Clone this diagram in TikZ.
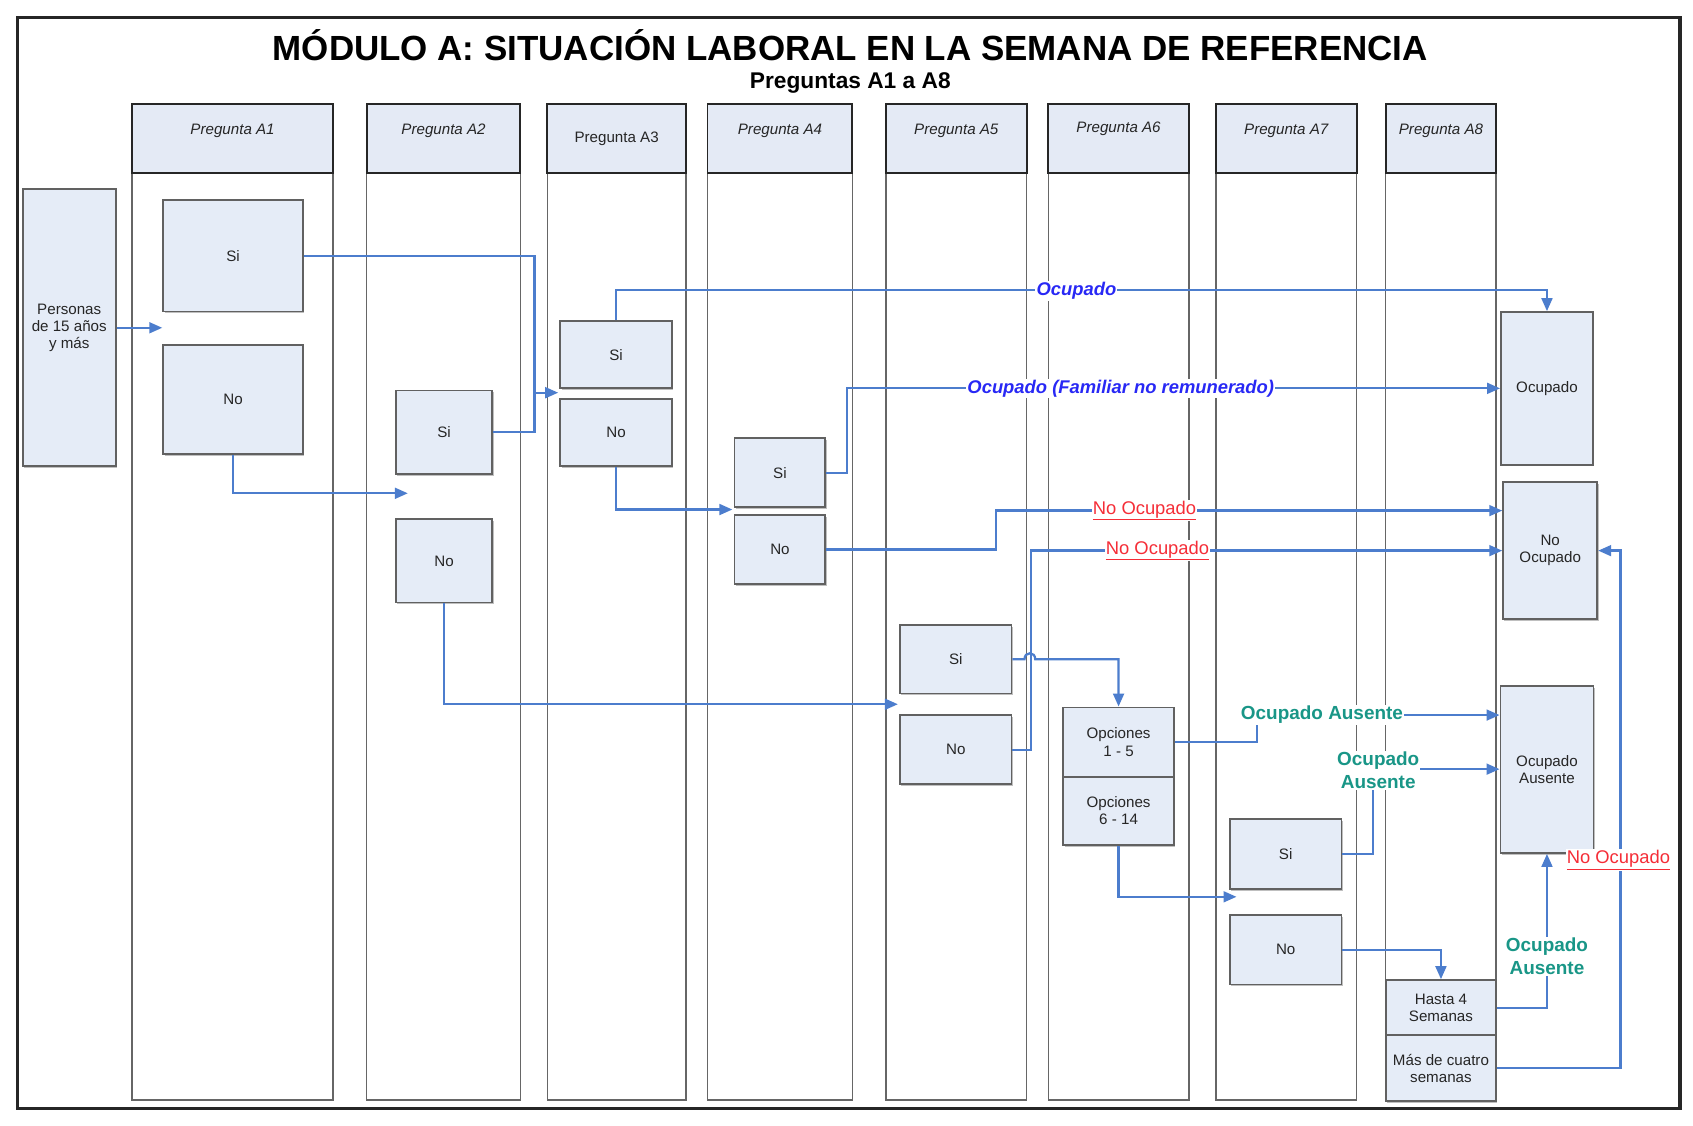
\documentclass[tikz,border=0pt]{standalone}
\usepackage{fontspec}
\setmainfont{Liberation Sans}
\usetikzlibrary{arrows.meta,shadows}
\definecolor{hdrfill}{RGB}{228,234,245}
\definecolor{boxfill}{RGB}{229,236,247}
\definecolor{lineblue}{RGB}{76,125,205}
\definecolor{textblue}{RGB}{40,40,245}
\definecolor{textred}{RGB}{245,45,55}
\definecolor{textteal}{RGB}{25,150,135}
\begin{document}
\begin{tikzpicture}[x=1pt,y=-1pt,
  frame/.style={draw=black!85,line width=3pt},
  lanebody/.style={draw=black!60,line width=1.3pt},
  hdr/.style={draw=black!85,line width=1.8pt,fill=hdrfill},
  hit/.style={font=\itshape\fontsize{14}{16}\selectfont,text=black!85},
  hup/.style={font=\fontsize{14}{16}\selectfont,text=black!85},
  box/.style={draw=black!62,line width=1.7pt,fill=boxfill,inner sep=0pt,align=center,
    font=\fontsize{14}{16}\selectfont,text=black!85,
    drop shadow={shadow xshift=1.2pt,shadow yshift=-1.6pt,opacity=0.25,fill=black}},
  conn/.style={draw=lineblue,line width=2.1pt,-{Triangle[length=12pt,width=10pt]}},
  plain/.style={draw=lineblue,line width=2.1pt},
  lblue/.style={fill=white,inner sep=1pt,text=textblue,font=\bfseries\itshape\fontsize{17}{19}\selectfont},
  lred/.style={fill=white,inner sep=1pt,text=textred,font=\fontsize{17}{19}\selectfont},
  lteal/.style={fill=white,inner sep=1pt,text=textteal,align=center,font=\bfseries\fontsize{17.5}{21}\selectfont}
]
\useasboundingbox (0,0) rectangle (1565,1040);
\fill[white] (0,0) rectangle (1565,1040);
\draw[frame] (16,16) rectangle (1553,1025);

\node[font=\bfseries\fontsize{32.3}{36}\selectfont] (title) at (786,42) {MÓDULO A: SITUACIÓN LABORAL EN LA SEMANA DE REFERENCIA};
\node[font=\bfseries\fontsize{21}{23}\selectfont] (sub) at (786,77) {Preguntas A1 a A8};

% lanes
\foreach \i/\l/\r/\ty/\st in {1/122/308/121/hit,2/339/481/121/hit,3/506/634/128/hup,4/654/788/121/hit,
  5/819/949/121/hit,6/969/1099/119/hit,7/1124/1254/121/hit,8/1281/1383/121/hit}{
  \draw[lanebody] (\l,96) rectangle (\r,1017);
  \draw[hdr] (\l,96) rectangle (\r,160);
  \node[\st] (h\i) at ({(\l+\r)/2},\ty) {Pregunta A\i};
}

% boxes
\node[box,minimum width=86pt,minimum height=256pt] (pers) at (64,303) {Personas\\de 15 años\\y más};
\node[box,minimum width=129pt,minimum height=103pt] (a1si) at (215.5,236.5) {Si};
\node[box,minimum width=129pt,minimum height=101pt] (a1no) at (215.5,369.5) {No};
\node[box,minimum width=89pt,minimum height=77pt] (a2si) at (410.5,399.5) {Si};
\node[box,minimum width=89pt,minimum height=77pt] (a2no) at (410.5,518.5) {No};
\node[box,minimum width=103pt,minimum height=62pt] (a3si) at (569.5,328) {Si};
\node[box,minimum width=103pt,minimum height=62pt] (a3no) at (569.5,400) {No};
\node[box,minimum width=84pt,minimum height=64pt] (a4si) at (721,437) {Si};
\node[box,minimum width=84pt,minimum height=64pt] (a4no) at (721,508) {No};
\node[box,minimum width=103pt,minimum height=63pt] (a5si) at (883.5,609.5) {Si};
\node[box,minimum width=103pt,minimum height=64pt] (a5no) at (883.5,693) {No};
\node[box,minimum width=102pt,minimum height=64pt] (op15) at (1034,686) {Opciones\\1 - 5};
\node[box,minimum width=102pt,minimum height=63pt] (op614) at (1034,749.5) {Opciones\\6 - 14};
\node[box,minimum width=103pt,minimum height=65pt] (a7si) at (1188.5,789.5) {Si};
\node[box,minimum width=103pt,minimum height=64pt] (a7no) at (1188.5,878) {No};
\node[box,minimum width=102pt,minimum height=51pt] (h4) at (1332,931.5) {Hasta 4\\Semanas};
\node[box,minimum width=102pt,minimum height=61pt] (m4) at (1332,987.5) {Más de cuatro\\semanas};
\node[box,minimum width=85pt,minimum height=141pt] (ocu) at (1430,359) {Ocupado};
\node[box,minimum width=87pt,minimum height=127pt] (nocu) at (1433,509) {No\\Ocupado};
\node[box,minimum width=86pt,minimum height=154pt] (ocaus) at (1430,711.5) {Ocupado\\Ausente};

% free ends
\coordinate (t0) at (150,303);
\coordinate (j1) at (494,363);
\coordinate (t1) at (516,363);
\coordinate (t2) at (377,456);
\coordinate (t3) at (830,651);
\coordinate (t4) at (677,471);
\coordinate (t5) at (1143,829);
\coordinate (n1) at (nocu.west |- 0,472);
\coordinate (n2) at (nocu.west |- 0,509);
\coordinate (oa1) at (ocaus.west |- 0,661);
\coordinate (oa2) at (ocaus.west |- 0,711);

% connectors
\draw[conn] (pers.east) -- (t0);
\draw[conn] (a1si.east) -| (j1) -- (t1);
\draw[plain] (a2si.east) -| (j1);
\draw[conn] (a1no.south) |- (t2);
\draw[conn] (a2no.south) |- (t3);
\draw[conn] (a3si.north) -- ++(0,-28) -| (ocu.north);
\draw[conn] (a3no.south) |- (t4);
\draw[conn] (a4si.east) -- ++(19,0) |- (ocu.west);
\draw[conn] (a4no.east) -- ++(157,0) |- (n1);
\draw[conn] (a5si.east) -- (947,609.5) .. controls (947,602) and (957,602) .. (957,609.5) -| (op15.north);
\draw[conn] (a5no.east) -- ++(17,0) |- (n2);
\draw[conn] (op15.east) -- ++(76,0) |- (oa1);
\draw[conn] (op614.south) |- (t5);
\draw[conn] (a7si.east) -- ++(28,0) |- (oa2);
\draw[conn] (a7no.east) -| (h4.north);
\draw[conn] (h4.east) -| (ocaus.south);
\draw[conn] (m4.east) -- ++(114,0) |- (nocu.east);

% labels
\node[lblue] (l1) at (995,269) {Ocupado};
\node[lblue] (l2) at (1036,359) {Ocupado (Familiar no remunerado)};
\node[lred] (l3) at (1058,472) {\underline{No Ocupado}};
\node[lred] (l4) at (1070,509) {\underline{No Ocupado}};
\node[lteal] (l5) at (1222,661) {Ocupado Ausente};
\node[lteal] (l6) at (1274,712) {Ocupado\\Ausente};
\node[lteal] (l7) at (1430,884) {Ocupado\\Ausente};
\node[lred] (l8) at (1496,795) {\underline{No Ocupado}};
\end{tikzpicture}
\end{document}
